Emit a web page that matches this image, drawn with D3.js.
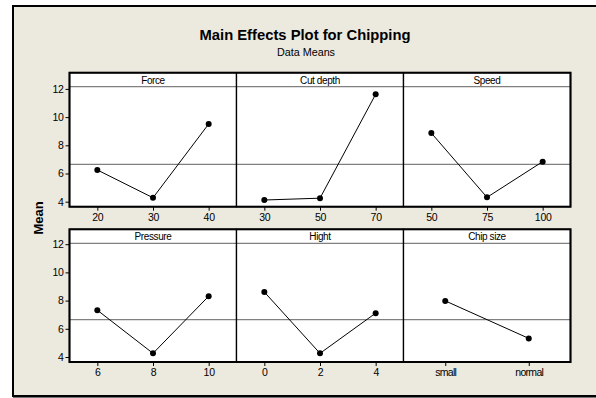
<!DOCTYPE html>
<html>
<head>
<meta charset="utf-8">
<script src="https://cdn.jsdelivr.net/npm/d3@7"></script>
<style>
  html, body { margin: 0; padding: 0; background: #ffffff; }
  svg { display: block; font-family: "Liberation Sans", Arial, sans-serif; }
</style>
</head>
<body>
<svg id="chart" width="596" height="398"></svg>
<script>
// Factor names, their levels and the mean response at each level
const factors = ["Force", "Cut depth", "Speed", "Pressure", "Hight", "Chip size"];
const forceLevels = ["20", "30", "40"];
const forceMeans = [6.25, 4.28, 9.51];
const cutDepthLevels = ["30", "50", "70"];
const cutDepthMeans = [4.12, 4.25, 11.62];
const speedLevels = ["50", "75", "100"];
const speedMeans = [8.87, 4.31, 6.84];
const pressureLevels = ["6", "8", "10"];
const pressureMeans = [7.32, 4.26, 8.31];
const hightLevels = ["0", "2", "4"];
const hightMeans = [8.61, 4.26, 7.11];
const chipSizeLevels = ["small", "normal"];
const chipSizeMeans = [7.98, 5.32];
const grandMean = 6.65;
const yTicks = [4, 6, 8, 10, 12];

const levels = [forceLevels, cutDepthLevels, speedLevels, pressureLevels, hightLevels, chipSizeLevels];
const means = [forceMeans, cutDepthMeans, speedMeans, pressureMeans, hightMeans, chipSizeMeans];

const svg = d3.select("#chart");

// Beige page with a dark frame on the left, top and bottom
svg.append("rect").attr("x", 12).attr("y", 5).attr("width", 600).attr("height", 391)
  .attr("fill", "#ece9df");
svg.append("path")
  .attr("d", "M596,6 H13 V396 H596")
  .attr("fill", "none").attr("stroke", "#000").attr("stroke-width", 2);
svg.append("line").attr("x1", 13).attr("x2", 596).attr("y1", 397.5).attr("y2", 397.5)
  .attr("stroke", "#777").attr("stroke-width", 1);

// Titles
svg.append("text").attr("x", 305).attr("y", 40).attr("text-anchor", "middle")
  .attr("font-size", 15.5).attr("font-weight", "bold")
  .attr("textLength", 211).attr("lengthAdjust", "spacingAndGlyphs")
  .text("Main Effects Plot for Chipping");
svg.append("text").attr("x", 306).attr("y", 55.5).attr("text-anchor", "middle")
  .attr("font-size", 11)
  .attr("textLength", 58).attr("lengthAdjust", "spacingAndGlyphs")
  .text("Data Means");

// Panel layout
const left = 69.5, right = 570.5;
const panelW = (right - left) / 3;
const rowTop = [72.7, 229.3];
const rowBottom = [206.7, 362];
const headerH = 14;

svg.append("text")
  .attr("transform", `translate(43,218) rotate(-90)`)
  .attr("text-anchor", "middle").attr("font-size", 13).attr("font-weight", "bold")
  .text("Mean");

factors.forEach((name, i) => {
  const row = Math.floor(i / 3), col = i % 3;
  const x0 = left + col * panelW, x1 = x0 + panelW;
  const top = rowTop[row], bottom = rowBottom[row];

  // Value 4 sits 5 px above the panel bottom, 2 units per 28.2 px
  const y = d3.scaleLinear()
    .domain([4, 12])
    .range([bottom - 5, bottom - 5 - 4 * 28.2]);
  const x = d3.scalePoint().domain(levels[i]).range([x0, x1]).padding(0.5);

  const g = svg.append("g");
  g.append("rect").attr("x", x0).attr("y", top).attr("width", panelW).attr("height", bottom - top)
    .attr("fill", "#fff");

  // Grand mean reference line
  g.append("line").attr("x1", x0).attr("x2", x1)
    .attr("y1", y(grandMean)).attr("y2", y(grandMean))
    .attr("stroke", "#808080").attr("stroke-width", 1.3);

  // Header strip
  g.append("line").attr("x1", x0).attr("x2", x1)
    .attr("y1", top + headerH).attr("y2", top + headerH)
    .attr("stroke", "#808080").attr("stroke-width", 1.3);
  g.append("text").attr("x", (x0 + x1) / 2).attr("y", top + 11)
    .attr("text-anchor", "middle").attr("font-size", 10).attr("letter-spacing", -0.4)
    .text(name);

  // Main effect line and points
  const pts = levels[i].map((lv, k) => [x(lv), y(means[i][k])]);
  g.append("path").attr("d", d3.line()(pts))
    .attr("fill", "none").attr("stroke", "#000").attr("stroke-width", 1);
  g.selectAll("circle").data(pts).join("circle")
    .attr("cx", d => d[0]).attr("cy", d => d[1]).attr("r", 3)
    .attr("fill", "#000");

  // Panel border
  g.append("rect").attr("x", x0).attr("y", top).attr("width", panelW).attr("height", bottom - top)
    .attr("fill", "none").attr("stroke", "#000").attr("stroke-width", 1.3);

  // X axis
  const xa = svg.append("g").attr("transform", `translate(0,${bottom})`)
    .call(d3.axisBottom(x).tickSize(4).tickPadding(3));
  xa.select(".domain").remove();
  xa.selectAll("line").attr("stroke", "#000");
  xa.selectAll("text").attr("font-size", 10.5).attr("fill", "#000")
    .attr("font-family", "Liberation Sans, Arial, sans-serif")
    .attr("letter-spacing", levels[i][0] === "small" ? -0.7 : -0.3);

  // Y axis on the first column
  if (col === 0) {
    const ya = svg.append("g").attr("transform", `translate(${x0},0)`)
      .call(d3.axisLeft(y).tickValues(yTicks).tickSize(4).tickPadding(2));
    ya.select(".domain").remove();
    ya.selectAll("line").attr("stroke", "#000");
    ya.selectAll("text").attr("font-size", 10.5).attr("fill", "#000")
      .attr("font-family", "Liberation Sans, Arial, sans-serif")
      .attr("letter-spacing", -0.3);
  }
});

// Thicker outer edge around each row of panels
rowTop.forEach((t, r) => {
  svg.append("rect").attr("x", left).attr("y", t).attr("width", right - left)
    .attr("height", rowBottom[r] - t)
    .attr("fill", "none").attr("stroke", "#000").attr("stroke-width", 2);
});
</script>
</body>
</html>
